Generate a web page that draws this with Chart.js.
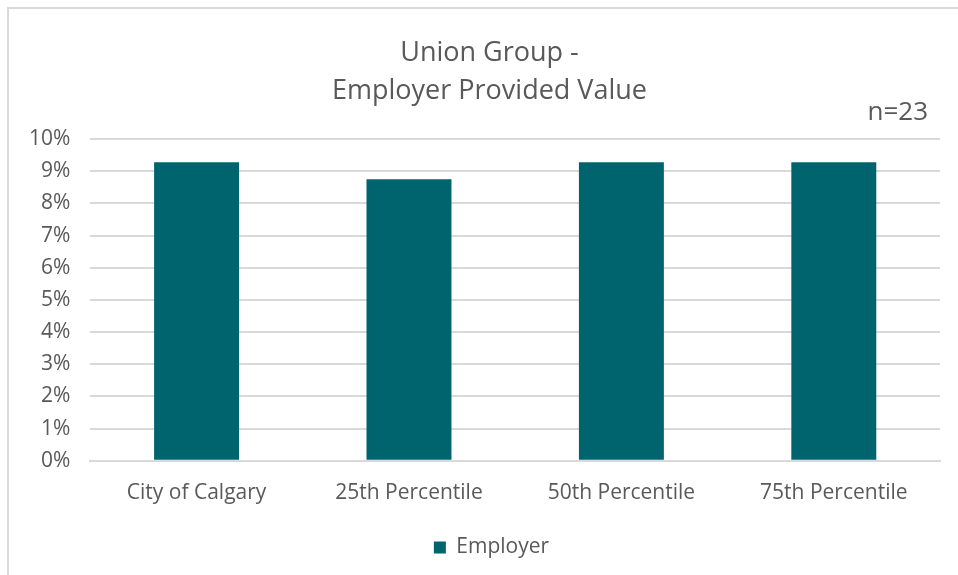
<!DOCTYPE html>
<html>
<head>
<meta charset="utf-8">
<script src="https://cdn.jsdelivr.net/npm/chart.js@4/dist/chart.umd.min.js"></script>
<style>
  html, body { margin: 0; padding: 0; background: #fff; }
  #frame { position: absolute; left: 7px; top: 7px; width: 951px; height: 568px;
           border-left: 2px solid #d9d9d9; border-top: 2px solid #d9d9d9; box-sizing: border-box; }
  #wrap { position: absolute; left: 0; top: 0; width: 958px; height: 575px; }
</style>
</head>
<body>
<div id="frame"></div>
<div id="wrap"><canvas id="c" width="958" height="575"></canvas></div>
<script>
const categories = ["City of Calgary", "25th Percentile", "50th Percentile", "75th Percentile"];
const employerValues = [9.28, 8.75, 9.28, 9.28];
const seriesName = "Employer";
const titleLines = ["Union Group -", "Employer Provided Value"];
const noteText = "n=23";

const FONT = "'Open Sans', 'Liberation Sans', sans-serif";
const GRAY = "#595959";

const notePlugin = {
  id: "note",
  afterLayout(chart) {
    // Excel centres title and legend slightly right of the full-width centre
    if (chart.titleBlock) { chart.titleBlock.left += 15; chart.titleBlock.right += 15; }
    if (chart.legend) { chart.legend.left += 17; chart.legend.right += 17; }
  },
  afterDraw(chart) {
    const ctx = chart.ctx;
    ctx.save();
    ctx.font = "26px " + FONT;
    ctx.fillStyle = GRAY;
    ctx.textAlign = "right";
    ctx.textBaseline = "middle";
    ctx.fillText(noteText, chart.chartArea.right - 12, chart.chartArea.top - 26);
    ctx.restore();
  }
};

new Chart(document.getElementById("c"), {
  type: "bar",
  data: {
    labels: categories,
    datasets: [{
      label: seriesName,
      data: employerValues,
      backgroundColor: "#00646F",
      borderWidth: 0,
      categoryPercentage: 0.4,
      barPercentage: 1.0
    }]
  },
  plugins: [notePlugin],
  options: {
    responsive: false,
    animation: false,
    layout: { padding: { left: 9, right: 18, top: 20, bottom: 7 } },
    plugins: {
      title: {
        display: true,
        text: titleLines,
        color: GRAY,
        font: { family: FONT, size: 27, weight: "normal", lineHeight: 1.407 },
        padding: { top: 14, bottom: 29 }
      },
      legend: {
        display: true,
        position: "bottom",
        labels: {
          color: GRAY,
          font: { family: FONT, size: 21 },
          boxWidth: 12,
          boxHeight: 12,
          padding: 19
        }
      },
      tooltip: { enabled: false }
    },
    scales: {
      x: {
        grid: { display: false },
        border: { display: true, color: "#d9d9d9", width: 2 },
        ticks: { color: GRAY, font: { family: FONT, size: 21 }, padding: 12 }
      },
      y: {
        min: 0,
        max: 10,
        grid: { color: "#d9d9d9", lineWidth: 2, drawTicks: false },
        border: { display: false },
        ticks: {
          stepSize: 1,
          color: GRAY,
          font: { family: FONT, size: 21 },
          padding: 20,
          callback: v => v + "%"
        }
      }
    }
  }
});
</script>
</body>
</html>
